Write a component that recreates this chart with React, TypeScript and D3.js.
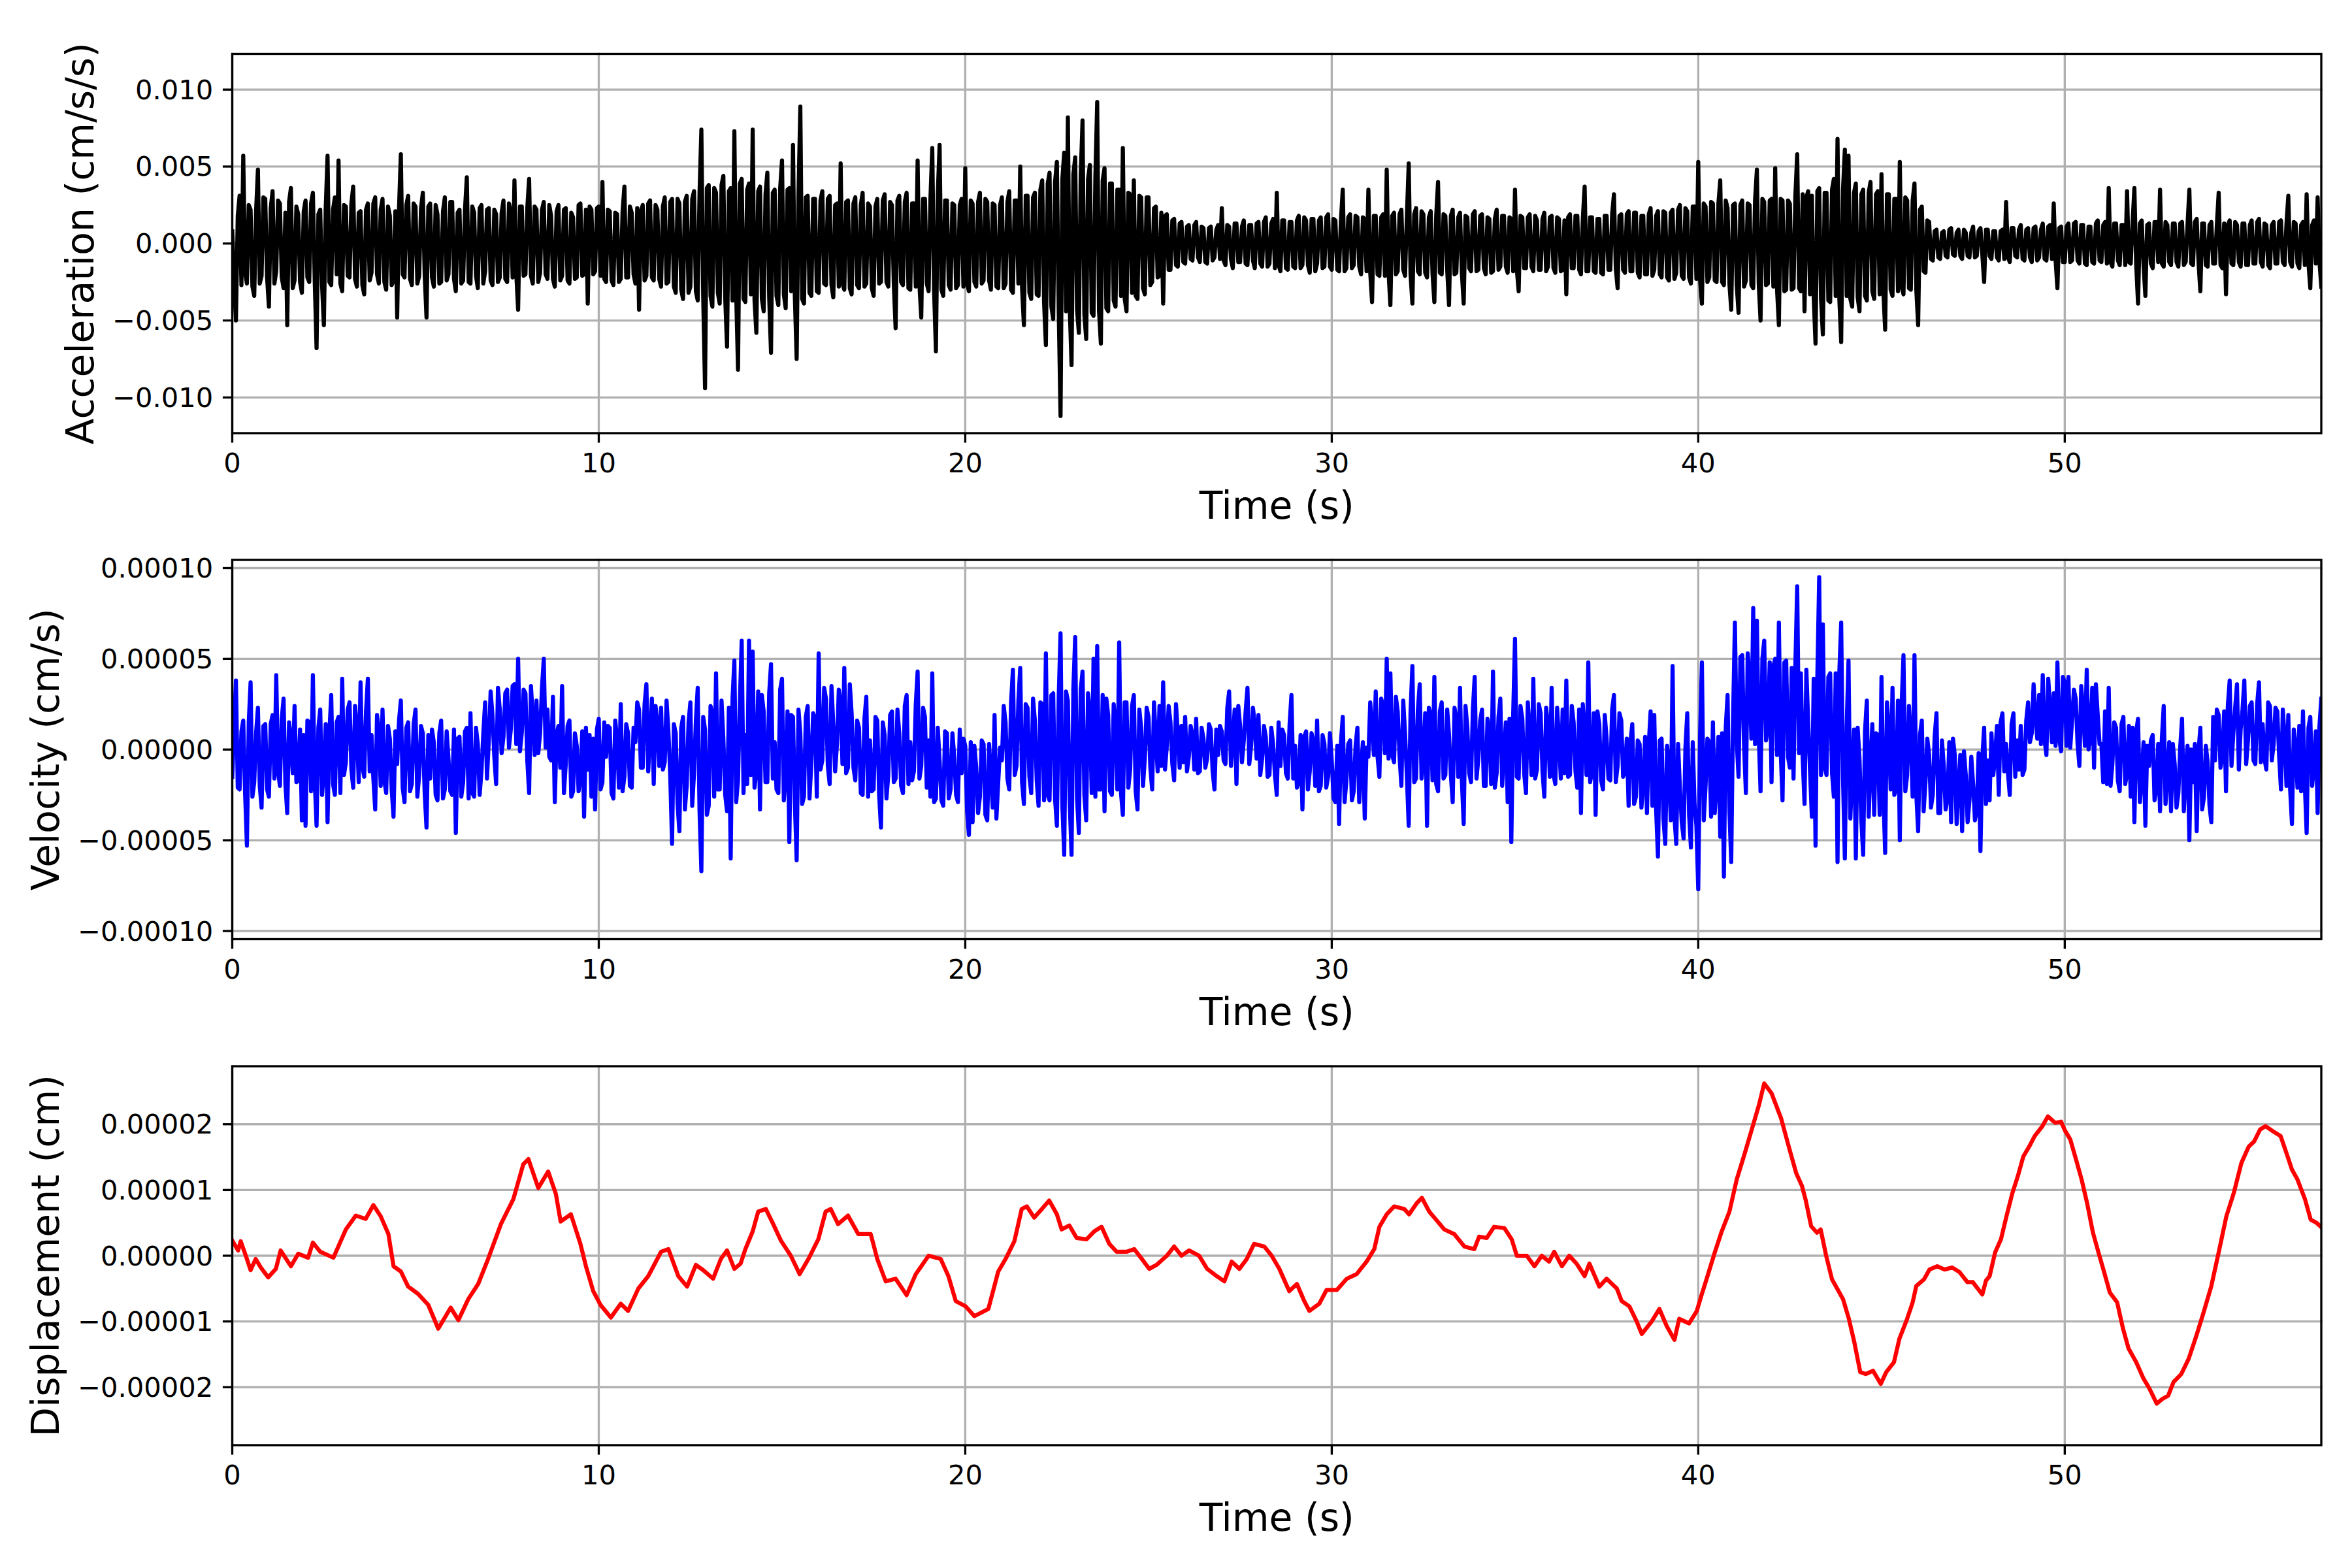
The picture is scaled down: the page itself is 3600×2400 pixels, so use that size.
import React, { useEffect, useRef } from "react";
import * as d3 from "d3";

// ---------- DATA ----------
// Acceleration, units of 1e-3 cm/s/s, at t = 0.0, 0.1, 0.2 ... 57.0 s
const accelOnTenths: number[] = [
  0.8, -5.0, 3.1, 5.7, -2.6, 2.2, -3.4, 4.8, -2.1, 2.9,
  -4.1, 3.4, -1.8, 2.6, -2.9, -5.3, 3.6, -2.4, 1.9, -3.2,
  2.8, -2.5, 3.3, -6.8, 2.2, -5.3, 5.7, -2.7, 3.0, 5.4,
  -3.1, 2.4, -2.2, 3.7, -2.8, 2.1, -3.3, 2.6, -1.9, 3.0,
  -2.6, 2.9, -3.0, 1.8, -2.4, -4.8, 5.8, -2.2, 3.1, -2.7,
  2.4, -2.1, 3.3, -4.8, 2.6, -2.8, 1.9, -2.5, 3.0, -2.0,
  2.7, -3.1, 2.2, -2.4, 4.3, -2.6, 2.0, -2.9, 2.5, -1.8,
  2.3, -2.7, 1.9, -2.2, 2.8, -2.5, 2.1, 4.1, -4.3, 2.4,
  -2.0, 4.2, -2.6, 2.2, -1.9, 2.7, -2.3, 1.8, -2.8, 2.5,
  -2.1, 2.3, -2.6, 1.7, -2.2, 2.6, -2.0, -3.9, 2.2, -1.8,
  2.4, 4.0, -2.5, 2.1, -2.7, 1.9, -2.3, 3.7, -2.2, 2.0,
  -2.6, -4.3, 2.5, -2.1, 2.8, -2.4, 2.2, -2.8, 3.0, -2.5,
  2.9, -3.2, 2.6, -3.6, 3.1, -2.8, 3.4, -3.7, 7.4, -9.4,
  3.8, -4.1, 3.3, -3.9, 4.4, -6.7, 3.6, 7.3, -8.2, 4.2,
  -3.8, 3.9, 7.4, -5.8, 3.7, -4.4, 4.6, -7.1, 3.5, -4.0,
  5.4, -4.2, 3.6, 6.4, -7.5, 8.9, -3.9, 3.1, -3.4, 2.9,
  -3.2, 3.4, -2.7, 3.1, -3.5, 2.6, 5.2, -3.0, 2.8, -3.3,
  3.0, -2.9, 3.3, -2.6, 2.4, -3.4, 2.9, -2.5, 3.2, -2.8,
  2.5, -5.5, 3.1, -2.7, 3.3, -3.0, 2.6, 5.4, -4.8, 2.9,
  -3.1, 6.2, -7.0, 6.4, -3.4, 2.8, -3.0, 2.5, -2.7, 2.9,
  4.9, -3.1, 2.6, -2.8, 3.3, -2.4, 2.7, -3.0, 2.5, -2.9,
  3.0, -2.6, 3.4, -3.2, 2.8, 5.0, -5.3, 3.1, -3.6, 3.3,
  -3.4, 4.1, -6.6, 4.6, -4.9, 5.3, -11.2, 5.9, 8.2, -7.9,
  5.6, -5.8, 8.0, -6.2, 5.1, -4.7, 9.2, -6.5, 4.9, -4.4,
  3.9, -4.1, 3.5, 6.2, -4.4, 3.2, 4.1, -3.6, 3.0, -3.3,
  3.0, -2.5, 2.4, -2.1, -3.9, 1.9, -1.7, 1.6, -1.5, 1.4,
  -1.3, 1.2, -1.1, 1.4, -1.2, 1.0, -1.3, 1.1, -0.9, 1.2,
  2.3, -1.4, 1.1, -1.6, 1.3, -1.2, 1.5, -1.4, 1.2, -1.6,
  1.4, -1.5, 1.7, -1.3, 1.6, 3.3, -1.8, 1.5, -1.7, 1.4,
  -1.6, 1.8, -1.4, 1.5, -1.9, 1.6, -1.3, 1.7, -1.5, 1.9,
  -1.7, 1.5, -1.8, 3.5, -1.6, 1.9, -1.4, 1.7, -2.0, 1.6,
  3.5, -3.8, 1.8, -2.1, 1.9, 4.8, -4.0, 2.0, -1.8, 2.2,
  -2.1, 5.2, -3.9, 2.3, -2.0, 1.9, -2.2, 2.1, -3.8, 4.0,
  -2.0, 1.8, -4.0, 2.2, -1.9, 2.0, -3.9, 1.7, -1.8, 2.1,
  -1.7, 1.9, -2.0, 1.6, -1.8, 2.2, -1.5, 1.8, -1.9, 1.6,
  3.5, -3.1, 1.7, -1.6, 1.9, -1.8, 1.5, -1.7, 2.0, -1.5,
  1.8, -1.9, 1.6, -1.7, -3.3, 1.9, -1.6, 1.8, -2.0, 3.7,
  -1.8, 1.7, -1.9, 1.6, -2.0, 1.8, -1.7, 3.2, -2.9, 1.9,
  -1.9, 2.1, -1.8, 2.0, -2.2, 1.8, -2.0, 2.3, -1.7, 2.1,
  -2.2, 2.0, -2.4, 2.2, -1.9, 2.5, -2.3, 2.1, -2.6, 2.4,
  5.3, -3.9, 2.4, -2.2, 2.6, -2.5, 4.1, -2.7, 2.3, -4.3,
  2.6, -4.5, 2.8, -2.4, 2.5, -2.9, 4.8, -5.0, 2.7, -2.6,
  2.9, 4.9, -5.3, 2.8, -3.0, 2.6, -2.9, 5.8, -3.1, -4.4,
  3.4, 3.1, -6.5, 3.6, -5.9, 3.3, -3.8, 4.2, 6.8, -6.4,
  6.1, 5.7, -4.1, 3.9, -4.4, 3.5, -3.7, 4.0, -3.6, 3.4,
  4.5, -5.6, 3.2, -3.4, 2.9, 5.3, -3.3, 2.8, -3.0, 3.9,
  -5.3, 2.4, -1.9, 1.4, -1.1, 0.9, -1.0, 0.8, -0.9, 1.0,
  -0.8, 0.9, -1.0, 0.7, -0.9, 1.1, -0.8, 1.0, -2.5, 0.9,
  -1.0, 0.8, -1.1, 0.9, 2.7, -1.2, 1.0, -0.9, 1.2, -1.1,
  1.0, -1.2, 1.1, -0.9, 1.3, -1.1, 1.2, 2.6, -2.9, 1.1,
  -1.2, 1.3, -1.1, 1.4, -1.3, 1.2, -1.4, 1.1, -1.3, 1.5,
  -1.2, 1.4, 3.6, -1.5, 1.3, -1.4, 1.2, 3.4, -1.3, 3.6,
  -3.9, 1.5, -3.4, 1.3, -1.6, 1.4, 3.5, -1.5, 1.2, -1.4,
  1.3, -1.5, 1.4, -1.2, 3.5, -1.4, 1.6, -3.1, 1.3, -1.5,
  1.4, -1.3, 3.3, -1.6, -3.3, 1.5, -1.4, 1.2, -1.5, 1.3,
  -1.4, 1.5, -1.3, 1.6, -1.5, 1.2, -1.6, 1.4, -1.3, 1.5,
  -1.4, 3.1, -1.5, 1.3, -1.6, 1.4, 3.2, -2.9, 1.5, 3.0,
  -2.8,
];
// Acceleration, units of 1e-3 cm/s/s, at t = 0.05, 0.15, 0.25 ... 56.95 s
const accelOnHalfTenths: number[] = [
  -2.4, 1.8, -2.7, -1.9, 2.5, -2.8, 2.1, -2.6, 3.0, -2.2,
  2.3, -2.6, 2.8, -2.2, 2.0, 2.7, -2.9, 2.4, -2.5, 2.1,
  -2.2, 2.6, -2.4, 1.9, -2.7, 2.3, -2.5, 2.2, -2.0, -2.6,
  2.5, -2.1, 2.6, -2.3, 2.0, -2.7, 2.2, -2.4, 2.6, -2.0,
  2.2, -2.5, 2.4, -2.7, 2.1, 2.3, -2.0, 2.5, -2.3, 2.6,
  -2.6, 2.3, -2.0, 2.4, -2.2, 2.5, -2.6, 2.1, -2.4, 2.7,
  -2.3, 2.0, -2.6, 2.2, -2.5, 2.4, -2.1, 2.3, -2.6, 2.2,
  -2.4, 2.2, -2.5, 2.0, -2.3, 2.6, -2.2, -2.0, 2.4, -2.1,
  2.3, -2.1, 2.4, -2.5, 2.2, -2.0, 2.5, -2.3, 2.1, -2.4,
  2.2, -2.4, 2.0, -2.3, 2.5, -2.1, 2.2, 2.4, -2.0, 2.3,
  -2.1, -2.3, 2.2, -2.4, 2.0, -2.5, 2.1, -2.2, 2.4, -2.0,
  2.3, 2.1, -2.4, 2.6, -2.2, 2.5, -2.3, 2.4, -2.6, 2.7,
  -2.8, 2.9, -3.0, 2.7, -3.2, 2.9, -3.1, 3.3, -3.5, 3.6,
  -3.4, 3.6, -3.2, 3.8, -3.5, 3.4, -3.7, -3.3, 3.9, -3.6,
  3.5, -3.3, -3.7, 3.4, -3.6, 3.2, -3.5, 3.3, -3.4, 3.6,
  -3.3, 3.5, -3.1, -3.4, 3.2, -3.6, 3.0, -3.2, 2.9, -3.1,
  2.8, -2.6, 2.9, -2.7, 2.5, -2.8, -2.6, 2.7, -2.9, 2.6,
  -2.7, 2.5, -2.8, 2.6, -2.9, 2.4, -2.6, 2.8, -2.5, 2.7,
  -2.6, 2.8, -2.5, 2.7, -2.9, 2.6, -2.8, -2.7, 2.9, -2.6,
  2.9, -3.1, 3.2, -3.0, 2.8, -2.7, 2.6, -2.9, 2.5, -2.8,
  -2.6, 2.8, -2.5, 2.7, -2.6, 2.9, -2.4, 2.6, -2.8, 2.5,
  -2.9, 2.7, -3.0, 2.8, -2.6, -2.9, 3.1, -3.2, 3.0, -3.3,
  3.5, -3.8, 3.9, -4.1, 4.0, -4.3, 4.2, -4.4, -4.1, 4.5,
  -4.3, 4.4, -4.6, 4.2, -4.5, 4.3, -4.4, 4.1, -4.2, 3.9,
  -3.7, 3.5, -3.4, -3.6, 3.3, -3.2, -3.4, 3.1, -2.9, 3.0,
  -2.7, 2.3, -2.2, 2.0, 1.8, -1.7, 1.5, -1.4, 1.3, -1.2,
  1.1, -1.0, 1.2, -0.9, 1.1, -1.2, 1.0, -1.1, 0.9, -1.0,
  -1.1, 1.2, -1.0, 1.3, -1.2, 1.1, -1.3, 1.2, -1.1, 1.3,
  -1.3, 1.4, -1.5, 1.3, -1.6, -1.4, 1.5, -1.6, 1.4, -1.5,
  1.5, -1.6, 1.7, -1.4, 1.6, -1.8, 1.5, -1.6, 1.7, -1.5,
  1.6, -1.7, 1.5, -1.8, 1.7, -1.6, 1.8, -1.5, 1.7, -1.8,
  -1.9, 1.8, -2.0, 1.7, -2.1, -1.9, 1.8, -2.0, 1.9, -1.7,
  1.8, -2.0, 1.9, -1.8, 2.1, -1.9, 1.7, -2.0, 1.8, -1.9,
  1.9, -1.7, 1.8, -2.0, 1.7, -1.9, 1.8, -1.6, 1.9, -1.8,
  1.8, -1.6, 1.7, -1.9, 1.6, -1.7, 1.8, -1.5, 1.7, -1.8,
  -1.7, 1.8, -1.6, 1.7, -1.5, 1.8, -1.7, 1.6, -1.8, 1.7,
  -1.6, 1.7, -1.8, 1.5, 1.7, -1.6, 1.8, -1.7, 1.6, -1.8,
  1.7, -1.8, 1.6, -1.9, 1.8, -1.7, 1.9, -1.6, 1.8, -1.7,
  1.9, -1.8, 2.0, -1.9, 1.8, -2.0, 1.9, -2.1, 1.8, -2.0,
  2.1, -2.2, 2.0, -2.3, 2.2, -2.1, 2.3, -2.2, 2.4, -2.3,
  -2.4, 2.6, -2.5, 2.7, -2.4, 2.6, -2.5, 2.8, -2.6, 2.5,
  -2.7, 2.5, -2.8, 2.6, -2.7, 2.8, -2.6, 2.9, -2.7, 2.8,
  -2.8, -3.0, 2.9, -3.1, 2.8, -3.0, 3.1, -2.9, 3.2, 3.0,
  -3.3, -3.5, 3.4, -3.6, 3.3, -3.7, 3.5, -3.4, -3.6, 3.5,
  -3.4, -3.6, 3.3, -3.5, 3.2, -3.4, 3.3, -3.1, 3.2, -3.3,
  -3.1, 3.2, -3.0, 2.9, -3.1, -2.8, 3.0, -2.9, 2.8, -3.0,
  2.2, -1.8, 1.5, -1.0, 0.8, -0.9, 0.7, -0.8, 0.9, -0.7,
  0.7, -0.8, 0.9, -0.8, 0.7, -0.9, 0.8, -0.7, 0.9, -0.8,
  0.8, -0.9, 0.8, -1.0, -0.9, 1.0, -0.8, 0.9, -1.0, 0.9,
  -0.9, 1.0, -1.1, 0.9, -1.0, 1.1, -1.0, -1.1, 1.0, -1.2,
  1.1, -1.2, 1.3, -1.1, 1.2, -1.3, 1.1, -1.2, 1.3, -1.1,
  1.2, -1.3, -1.2, 1.3, -1.1, 1.2, -1.4, -1.2, 1.3, -1.4,
  1.3, -1.4, 1.2, -1.3, 1.4, -1.2, -1.3, 1.4, -1.2, 1.3,
  -1.2, 1.3, -1.4, 1.2, -1.3, 1.4, -1.2, 1.3, -1.4, 1.2,
  -1.3, 1.2, -1.4, 1.3, 1.2, -1.3, 1.4, -1.2, 1.3, -1.4,
  1.2, -1.3, 1.4, -1.2, 1.3, -1.4, 1.2, -1.3, 1.4, -1.2,
  1.3, -1.2, 1.4, -1.3, 1.2, -1.4, -1.3, 1.2, -1.3, -1.2,
];

// Velocity, units of 1e-5 cm/s, at t = 0.0, 0.1 ... 57.0 s
const velOnTenths: number[] = [
  -1.5, 3.8, -2.2, 1.6, -5.3, 3.7, -1.8, 2.3, -3.2, 1.4,
  -2.6, 1.9, 4.1, -2.0, 2.8, -3.5, 0.6, 2.4, -1.7, -3.9,
  -4.2, 1.5, 4.1, -4.2, 2.2, -1.1, -4.0, 3.0, -2.5, 1.8,
  3.9, -0.7, 2.6, -2.1, 1.3, 3.7, -1.5, 3.9, 0.8, -3.3,
  1.1, 2.2, -2.4, 0.6, -3.7, -0.8, 2.7, -2.9, 1.5, -1.9,
  2.2, -1.4, 0.9, -4.3, -1.6, 0.4, -2.8, 1.6, -2.2, -0.5,
  -2.5, -4.6, 0.7, -1.8, 1.2, 2.0, -2.6, 0.3, -1.2, 2.6,
  0.5, 1.9, -1.9, 2.2, 0.7, 3.3, 1.1, 3.6, 5.0, 0.9,
  3.1, -2.4, 1.8, 2.7, 0.9, 5.0, 2.2, -0.6, -2.9, 1.3,
  3.5, -0.8, 1.6, -2.3, 0.2, -1.5, -3.7, -1.1, -2.6, -3.3,
  1.7, -1.8, -0.4, 1.2, -2.7, 0.6, 2.5, -1.5, 0.9, -2.1,
  0.4, 2.2, -1.0, 3.6, 0.8, -1.9, 1.4, 2.3, -0.7, 1.0,
  -5.2, 0.9, -4.5, 1.8, -2.0, 2.6, -1.3, 3.4, -6.7, 1.1,
  -3.1, 2.0, 4.2, -2.2, 0.6, -3.4, -6.0, 4.9, -1.7, 6.0,
  0.8, 6.0, 5.4, -1.2, -3.3, 2.1, -1.8, 4.7, 0.4, -2.4,
  3.9, -1.5, -5.1, 1.8, -6.1, 0.9, -2.6, 2.4, -0.8, 1.7,
  5.3, -0.6, 2.8, -1.9, 1.4, 0.3, 2.6, 4.5, -1.0, 2.0,
  -1.7, 1.2, -2.5, 2.9, 0.5, -2.2, 1.6, -4.3, 0.8, -1.4,
  2.1, -1.6, 0.9, -2.4, 3.0, 0.4, -1.2, 4.3, -0.9, 1.8,
  0.5, 4.2, -2.7, -0.6, -3.1, 0.9, -2.2, -0.4, -2.9, -1.3,
  0.2, -4.7, -4.0, -1.0, -2.6, 0.3, -3.9, -1.4, 1.9, -1.8,
  -0.6, 1.5, -2.2, 4.4, -0.9, 4.5, -3.0, 2.3, -2.4, 1.6,
  -3.1, 2.5, 5.3, -2.8, 3.1, -4.2, 6.4, -5.8, 2.7, -5.8,
  6.2, -4.6, 4.3, -3.9, 2.1, 5.0, 5.7, -2.2, -3.4, 1.9,
  -2.5, 1.4, 5.9, -3.6, 2.6, -1.1, 3.0, -3.3, 1.2, -0.5,
  1.8, -2.2, 0.6, 2.4, 3.7, 0.2, 1.5, -1.7, 0.9, 1.3,
  1.8, -0.4, 0.8, 1.7, -1.2, 0.6, -0.5, 1.1, -2.2, -0.3,
  1.0, -0.8, 3.2, 0.4, -1.9, 1.3, 0.5, 3.4, 0.2, 1.4,
  1.9, -0.5, 0.7, -1.4, 0.3, -2.5, -0.9, 0.8, -1.6, 3.0,
  0.2, -1.8, -3.3, 1.0, -1.2, 0.4, 1.6, -2.0, 0.3, -1.5,
  -0.6, -2.9, -4.1, 1.8, -1.7, 0.5, -2.3, 1.2, -1.0, -3.8,
  -0.4, 1.3, 3.2, -1.5, 2.4, 5.0, 4.2, -0.7, 2.1, -2.0,
  0.9, -4.2, 4.6, -1.6, 3.6, -0.5, -4.2, 1.9, 4.0, -2.3,
  2.6, -1.4, 0.8, -2.9, 1.7, 3.4, -4.1, 1.2, -1.8, 4.0,
  -0.5, 2.2, -2.0, 1.1, 4.3, -1.3, 2.8, -0.2, -2.9, -5.1,
  6.1, -1.6, 1.7, -2.4, 0.9, 3.9, -1.1, 2.0, -2.6, 1.3,
  3.4, -1.9, 0.6, 2.2, 3.8, -1.4, 1.5, -2.1, -3.5, 0.8,
  4.8, -1.2, -3.6, 1.4, -2.2, 0.6, -1.7, 3.0, -0.9, 1.6,
  -1.2, -3.1, 1.4, -2.6, 0.3, -1.9, -3.5, 2.1, 1.9, -5.9,
  0.6, -5.2, -1.0, 4.6, -5.2, -2.1, -4.9, 2.0, -5.4, -3.0,
  -7.7, 4.8, -2.0, 0.4, 1.5, -1.9, -4.8, -7.0, 3.0, -6.2,
  7.0, -1.5, 5.2, -2.4, 4.0, 7.8, 7.1, -2.3, 6.0, 1.2,
  -1.8, 5.0, 7.0, -2.8, 4.9, -1.0, -1.6, 9.0, 4.2, -3.0,
  1.5, -3.7, -5.3, 9.5, 6.9, -1.4, 4.2, -2.6, -6.2, 7.0,
  -6.0, 4.9, -1.2, -6.0, -0.5, -5.8, 2.7, -1.0, -3.6, 0.8,
  4.0, -5.7, 1.1, 3.4, -2.2, -5.0, 5.2, -1.4, 0.6, 5.2,
  -4.5, 1.6, -1.8, -0.3, -2.5, 2.0, -3.5, -0.9, -2.7, -4.0,
  -0.3, -2.0, -4.5, -1.4, -2.8, -1.9, -3.3, -5.6, 1.2, -0.6,
  0.9, -0.4, -2.5, 2.0, 0.3, -2.5, 2.0, 0.5, 1.3, -1.1,
  2.6, 0.9, 1.8, 3.0, 4.1, -0.3, 2.3, 3.1, 4.8, -0.1,
  3.7, 4.0, 1.6, 2.8, -0.9, 2.2, 4.4, 0.6, -1.0, 1.9,
  0.3, 2.1, 3.4, -0.8, 1.2, -2.3, 1.8, -1.3, -2.6, -4.0,
  1.7, -1.6, -4.2, -0.9, 0.8, -2.2, -3.4, 2.4, -1.5, -3.4,
  -0.8, -2.4, 1.7, -1.2, -5.0, -1.8, -4.5, 1.2, -2.6, -0.7,
  -4.0, -0.6, 1.9, -0.4, -2.3, 3.8, 0.9, 3.6, 1.1, 3.8,
  0.5, 2.6, -0.8, 3.7, 1.4, -1.1, 2.4, 0.3, 2.1, -2.2,
  0.7, 1.9, -4.1, 0.2, 1.3, 2.1, -4.6, 1.8, -0.9, -3.5,
  2.8,
];
// Velocity, units of 1e-5 cm/s, at t = 0.05, 0.15 ... 56.95 s
const velOnHalfTenths: number[] = [
  1.2, -2.1, 1.0, -2.4, 1.5, -2.6, 0.9, -2.0, 1.3, -2.2,
  1.4, -1.6, -1.2, 1.7, -1.9, 1.5, -1.3, -1.8, 1.1, 0.8,
  1.6, -2.3, -1.7, 1.2, -2.5, 1.4, 0.9, -1.9, 1.5, -2.4,
  -1.4, 2.2, -1.1, 2.4, -1.8, -0.9, 2.1, -1.2, -1.6, 1.9,
  -2.0, -1.7, 1.3, -2.2, 1.0, 1.6, -2.1, 1.2, -2.3, 1.4,
  -2.6, 1.3, -2.4, 0.8, 1.1, -2.5, 0.9, -2.7, 1.0, -2.3,
  1.1, 0.6, -2.6, 1.0, -2.7, -2.4, 1.2, -2.5, 0.9, -1.6,
  3.2, -0.4, 3.4, -0.2, 3.1, 0.1, 3.5, 0.3, -0.1, 3.3,
  -0.6, 3.5, -0.3, -0.2, 3.4, 0.1, -0.4, 2.9, 0.8, -1.0,
  -2.4, 1.3, -2.6, 0.9, -2.3, 1.0, 1.2, 0.8, 0.6, 1.1,
  -2.2, 1.5, 1.3, -2.4, 1.6, -2.1, -2.3, 1.4, -2.0, 1.2,
  2.6, -1.0, 2.5, -1.2, 2.8, 2.4, -0.9, -1.1, 2.7, -1.4,
  1.4, -3.0, 1.2, -3.3, 1.5, -3.1, 1.6, -3.4, 1.8, -3.6,
  2.4, -2.6, -2.2, 2.7, -2.5, 2.3, 2.8, -2.9, 2.6, -2.4,
  -1.9, -1.4, -2.1, 3.2, 3.0, -1.8, 3.1, -1.6, -2.2, 3.3,
  -2.8, 2.1, 1.9, -2.9, 2.2, -3.0, 1.8, -2.7, 2.0, -2.6,
  -1.1, 3.4, -0.9, 3.5, -1.2, 3.3, -0.8, -1.3, 3.6, -1.0,
  1.6, -2.4, 1.7, -2.6, -2.3, 1.8, -2.5, 1.5, -2.7, 1.9,
  -1.8, 2.2, -2.0, 2.4, -1.9, -1.7, 2.5, -1.6, 2.3, -2.1,
  -2.6, -2.9, 1.2, -2.8, 1.0, -2.7, 0.9, -2.5, 1.1, 0.6,
  -3.4, 0.4, 0.2, -3.5, 0.5, -3.6, 0.3, -3.2, -3.8, 0.1,
  2.4, -1.6, 2.6, -1.4, 2.7, -1.8, 2.5, -1.5, 2.8, -1.7,
  2.6, -2.8, -2.5, 3.0, -2.7, 2.9, -3.1, 3.2, -2.9, 3.4,
  -2.7, 3.3, -2.5, 3.1, -2.4, -2.6, -2.2, 3.0, 2.8, -2.3,
  2.5, -2.2, -2.4, 2.6, -2.1, 2.4, -2.3, 2.2, -2.0, 2.3,
  -1.0, 2.6, -1.2, -0.9, -1.1, 2.4, -0.8, 2.5, -1.0, -0.7,
  -1.2, 1.3, -1.1, -1.3, 1.2, -1.0, 1.4, -1.2, 1.1, 1.3,
  -0.6, 2.3, -0.9, 2.2, 2.4, -0.7, 2.1, -0.8, 2.3, -0.5,
  -1.4, 1.3, -1.5, 1.2, -1.4, 1.5, 1.1, -1.3, 1.4, -1.6,
  -2.1, 0.8, 0.7, -2.2, 0.9, -2.0, -2.3, 0.8, -2.1, 0.9,
  -2.7, 0.2, 0.4, -2.9, 0.3, -2.8, 0.2, -2.9, 0.4, 0.1,
  2.6, -0.3, -0.4, 2.8, -0.2, -0.5, -0.3, 2.9, -0.4, 2.7,
  -1.5, 2.1, -1.8, 2.2, -1.6, 2.0, 2.3, -1.7, -1.9, 2.1,
  -1.6, 2.2, -1.4, 2.3, -1.5, -1.7, 2.4, -1.3, 2.2, -1.6,
  1.6, -2.0, 1.7, -1.9, -2.1, 1.8, -2.0, 1.5, 1.7, 1.9,
  -1.5, 2.4, -1.3, 2.6, -1.4, -1.6, 2.5, -1.2, 2.3, -1.5,
  -1.4, 2.3, -1.6, -1.3, -1.5, 2.4, -1.2, 2.2, 2.5, -1.4,
  -1.8, 2.0, 2.1, -1.7, 1.9, -1.6, 2.2, -1.8, 2.0, -1.5,
  0.6, 0.4, -3.0, 0.5, -3.2, 0.7, 0.3, -3.1, -3.3, 0.5,
  -3.8, 0.2, -3.9, -3.7, 0.3, -4.0, 0.1, -3.6, 0.4, -4.2,
  0.8, -3.9, 0.6, -3.7, -3.5, 0.7, 0.9, 1.2, -3.4, 1.8,
  0.4, 5.1, 0.2, 5.3, 0.6, 0.3, 0.8, 5.0, 0.5, 4.8,
  4.6, -0.3, -0.1, 4.8, -0.4, 4.5, 4.7, -0.2, -0.5, 4.4,
  -1.2, 3.9, 4.1, -1.4, -1.0, 4.0, -1.3, 4.2, 4.3, -1.6,
  1.3, -3.8, 1.1, 1.2, -3.9, 1.0, -3.7, 1.4, 0.9, -3.6,
  -2.4, 2.6, -2.2, -2.5, 2.7, 2.5, -2.3, 2.4, -2.6, -2.5,
  0.8, -3.4, 0.6, -3.2, 0.7, -3.5, 0.5, -3.3, 0.4, 0.6,
  -4.1, -0.3, -0.1, -4.0, -0.4, -3.9, -0.2, -0.5, -3.0, -2.8,
  -1.4, 1.3, 1.5, -1.2, -1.3, 1.4, -1.5, -1.1, -1.4, 1.6,
  0.4, 3.6, 0.6, 0.3, 0.5, 3.9, 0.4, 0.2, 0.6, 4.0,
  0.2, 0.1, 3.3, 0.3, 3.5, 0.2, 0.0, 3.4, 3.6, 0.3,
  -1.8, -1.9, -2.0, 1.5, -1.7, 1.4, -1.9, 1.3, 1.2, 1.0,
  -2.9, 0.4, 0.2, 0.5, -2.8, 0.3, 0.6, -3.0, 0.4, 0.3,
  -3.2, 0.1, -3.4, 0.2, 0.0, 0.3, -0.1, -3.3, 0.2, -3.1,
  1.8, 2.2, -1.0, 2.1, 2.4, -0.9, 2.3, -1.1, 2.2, -0.8,
  2.4, -0.6, 2.5, -0.7, -0.5, 2.6, -0.6, 2.3, -0.4, 2.2,
  -2.0, -2.2, 1.1, -2.1, -2.3, -1.9, 1.2, -2.0, 1.0, 1.3,
];

// Displacement: times (s) and values (units of 1e-5 cm)
const dispTime: number[] = [
  0.0, 0.16, 0.23, 0.37, 0.5, 0.64, 0.78, 0.98, 1.19, 1.32, 1.6, 1.8, 2.07, 2.2, 2.4, 2.76,
  3.1, 3.37, 3.64, 3.85, 4.05, 4.26, 4.4, 4.6, 4.8, 5.07, 5.35, 5.62, 5.96, 6.17, 6.44, 6.71,
  6.98, 7.33, 7.67, 7.94, 8.08, 8.35, 8.62, 8.83, 8.96, 9.24, 9.5, 9.65, 9.85, 10.05, 10.33, 10.6,
  10.8, 11.08, 11.35, 11.7, 11.9, 12.17, 12.41, 12.65, 12.85, 13.12, 13.33, 13.5, 13.7, 13.87, 14.0, 14.2,
  14.35, 14.56, 14.76, 14.97, 15.24, 15.48, 15.72, 15.99, 16.19, 16.33, 16.53, 16.8, 17.08, 17.42, 17.6, 17.83,
  18.1, 18.4, 18.65, 19.0, 19.33, 19.54, 19.74, 20.01, 20.25, 20.63, 20.9, 21.1, 21.34, 21.54, 21.68, 21.88,
  22.09, 22.29, 22.5, 22.63, 22.84, 23.04, 23.31, 23.52, 23.72, 23.93, 24.13, 24.4, 24.61, 24.82, 25.02, 25.22,
  25.5, 25.7, 25.9, 26.11, 26.38, 26.6, 26.86, 27.07, 27.27, 27.48, 27.68, 27.88, 28.16, 28.36, 28.57, 28.84,
  29.05, 29.25, 29.39, 29.66, 29.86, 30.14, 30.41, 30.68, 30.95, 31.16, 31.3, 31.5, 31.7, 31.98, 32.11, 32.32,
  32.46, 32.66, 32.86, 33.07, 33.34, 33.62, 33.89, 34.02, 34.23, 34.43, 34.71, 34.91, 35.05, 35.32, 35.53, 35.73,
  35.93, 36.07, 36.28, 36.48, 36.68, 36.9, 37.03, 37.3, 37.5, 37.78, 37.91, 38.12, 38.32, 38.46, 38.73, 38.94,
  39.14, 39.35, 39.48, 39.75, 39.96, 40.1, 40.23, 40.44, 40.64, 40.85, 41.05, 41.26, 41.46, 41.66, 41.8, 42.0,
  42.26, 42.47, 42.67, 42.83, 42.93, 43.08, 43.24, 43.34, 43.49, 43.65, 43.8, 43.95, 44.11, 44.26, 44.42, 44.57,
  44.77, 44.98, 45.13, 45.34, 45.49, 45.7, 45.85, 45.95, 46.16, 46.31, 46.52, 46.72, 46.93, 47.13, 47.34, 47.49,
  47.64, 47.75, 47.85, 47.95, 48.1, 48.26, 48.41, 48.57, 48.72, 48.87, 49.03, 49.18, 49.39, 49.54, 49.74, 49.9,
  50.0, 50.15, 50.31, 50.46, 50.61, 50.77, 50.92, 51.08, 51.23, 51.43, 51.59, 51.74, 51.95, 52.15, 52.31, 52.51,
  52.66, 52.82, 52.97, 53.18, 53.38, 53.59, 53.79, 54.0, 54.2, 54.41, 54.61, 54.82, 55.02, 55.17, 55.33, 55.48,
  55.69, 55.89, 56.05, 56.2, 56.35, 56.56, 56.71, 56.87, 56.97,
];
const dispValues: number[] = [
  0.23, 0.08, 0.22, 0.0, -0.22, -0.05, -0.18, -0.33, -0.2, 0.08, -0.16, 0.03, -0.03, 0.2, 0.06, -0.03,
  0.4, 0.61, 0.56, 0.77, 0.6, 0.33, -0.16, -0.24, -0.47, -0.58, -0.75, -1.11, -0.79, -0.98, -0.66, -0.43,
  -0.05, 0.48, 0.86, 1.39, 1.47, 1.03, 1.28, 0.94, 0.52, 0.63, 0.18, -0.16, -0.54, -0.75, -0.94, -0.73,
  -0.84, -0.5, -0.31, 0.06, 0.1, -0.31, -0.47, -0.14, -0.22, -0.35, -0.05, 0.08, -0.2, -0.12, 0.1, 0.37,
  0.67, 0.71, 0.48, 0.23, 0.0, -0.28, -0.05, 0.25, 0.67, 0.71, 0.48, 0.61, 0.33, 0.33, -0.05, -0.39,
  -0.35, -0.6, -0.28, 0.0, -0.05, -0.31, -0.69, -0.77, -0.92, -0.81, -0.24, -0.05, 0.22, 0.71, 0.75, 0.58,
  0.71, 0.84, 0.63, 0.4, 0.46, 0.27, 0.25, 0.37, 0.44, 0.18, 0.06, 0.06, 0.1, -0.05, -0.2, -0.14,
  0.0, 0.14, 0.0, 0.08, 0.0, -0.2, -0.31, -0.39, -0.09, -0.2, -0.05, 0.18, 0.14, 0.0, -0.2, -0.54,
  -0.43, -0.69, -0.84, -0.73, -0.52, -0.52, -0.35, -0.28, -0.09, 0.1, 0.44, 0.63, 0.75, 0.71, 0.63, 0.8,
  0.88, 0.67, 0.54, 0.4, 0.33, 0.14, 0.1, 0.29, 0.27, 0.44, 0.42, 0.25, 0.0, 0.0, -0.16, 0.0,
  -0.09, 0.06, -0.16, 0.0, -0.12, -0.31, -0.12, -0.47, -0.35, -0.5, -0.69, -0.77, -1.0, -1.19, -1.0, -0.81,
  -1.07, -1.28, -0.96, -1.03, -0.84, -0.58, -0.35, 0.03, 0.37, 0.67, 1.16, 1.54, 1.92, 2.3, 2.62, 2.47,
  2.09, 1.66, 1.26, 1.06, 0.85, 0.45, 0.35, 0.4, 0.0, -0.36, -0.51, -0.66, -0.96, -1.32, -1.77, -1.8,
  -1.75, -1.95, -1.77, -1.62, -1.26, -0.96, -0.71, -0.46, -0.36, -0.21, -0.16, -0.21, -0.18, -0.25, -0.4, -0.4,
  -0.51, -0.59, -0.38, -0.31, 0.05, 0.25, 0.6, 0.95, 1.21, 1.51, 1.66, 1.82, 1.97, 2.12, 2.02, 2.04,
  1.91, 1.77, 1.46, 1.16, 0.8, 0.35, 0.05, -0.26, -0.56, -0.71, -1.11, -1.41, -1.62, -1.87, -2.02, -2.25,
  -2.18, -2.13, -1.92, -1.8, -1.57, -1.22, -0.86, -0.46, 0.05, 0.6, 0.95, 1.41, 1.66, 1.74, 1.92, 1.97,
  1.89, 1.82, 1.56, 1.31, 1.16, 0.85, 0.55, 0.5, 0.45,
];

const SAMPLE_DT = 0.1; // seconds between the "tenths" samples
const ACCEL_UNIT = 1e-3;
const VEL_UNIT = 1e-5;
const DISP_UNIT = 1e-5;
const T_MAX = 57;

const timeTicks: number[] = [0, 10, 20, 30, 40, 50];
const accelTicks: number[] = [-0.01, -0.005, 0, 0.005, 0.01];
const velTicks: number[] = [-0.0001, -0.00005, 0, 0.00005, 0.0001];
const dispTicks: number[] = [-0.00002, -0.00001, 0, 0.00001, 0.00002];

const xLabel = "Time (s)";
const yLabels = ["Acceleration (cm/s/s)", "Velocity (cm/s)", "Displacement (cm)"];

// ---------- LAYOUT ----------
const W = 3600;
const H = 2400;
const LEFT = 355.5;
const RIGHT = 3553;
const PANEL_BOX = [
  { top: 82.5, bottom: 663 },
  { top: 857, bottom: 1437.5 },
  { top: 1632, bottom: 2212 },
];
const FONT = "'DejaVu Sans', Verdana, sans-serif";
const TICK_FS = 41.67;
const LABEL_FS = 58.33;
const TICK_LEN = 14.58;
const TICK_PAD = 14.58;
const SPINE_W = 3.33;
const GRID_W = 3.33;
const LINE_W = 6.25;

type Pt = [number, number];

// interleave the on-tenth and half-tenth readings into one time-ordered series
function mergeSeries(onTenths: number[], half: number[], unit: number): Pt[] {
  const out: Pt[] = [];
  onTenths.forEach((v, i) => {
    out.push([i * SAMPLE_DT, v * unit]);
    if (i < half.length) out.push([i * SAMPLE_DT + SAMPLE_DT / 2, half[i] * unit]);
  });
  return out;
}

export default function App() {
  const ref = useRef<SVGSVGElement | null>(null);

  useEffect(() => {
    const svg = d3.select(ref.current);
    svg.selectAll("*").remove();
    svg.append("rect").attr("width", W).attr("height", H).attr("fill", "#ffffff");

    const accelPts = mergeSeries(accelOnTenths, accelOnHalfTenths, ACCEL_UNIT);
    const velPts = mergeSeries(velOnTenths, velOnHalfTenths, VEL_UNIT);
    const dispPts: Pt[] = dispTime.map((t, i) => [t, dispValues[i] * DISP_UNIT]);

    const panels = [
      { pts: accelPts, ticks: accelTicks, fmt: d3.format(".3f"), color: "#000000", label: yLabels[0] },
      { pts: velPts, ticks: velTicks, fmt: d3.format(".5f"), color: "#0000ff", label: yLabels[1] },
      { pts: dispPts, ticks: dispTicks, fmt: d3.format(".5f"), color: "#ff0000", label: yLabels[2] },
    ];

    panels.forEach((p, pi) => {
      const box = PANEL_BOX[pi];
      const x = d3.scaleLinear().domain([0, T_MAX]).range([LEFT, RIGHT]);
      const maxAbs = d3.max(p.pts, (d) => Math.abs(d[1])) as number;
      const y = d3.scaleLinear().domain([-1.1 * maxAbs, 1.1 * maxAbs]).range([box.bottom, box.top]);
      const g = svg.append("g");

      const clipId = `clip-${pi}`;
      g.append("clipPath")
        .attr("id", clipId)
        .append("rect")
        .attr("x", LEFT)
        .attr("y", box.top)
        .attr("width", RIGHT - LEFT)
        .attr("height", box.bottom - box.top);

      // grid
      const grid = g.append("g").attr("stroke", "#b0b0b0").attr("stroke-width", GRID_W).attr("stroke-linecap", "square");
      timeTicks.forEach((t) => {
        grid.append("line").attr("x1", x(t)).attr("x2", x(t)).attr("y1", box.top).attr("y2", box.bottom);
      });
      p.ticks.forEach((v) => {
        grid.append("line").attr("x1", LEFT).attr("x2", RIGHT).attr("y1", y(v)).attr("y2", y(v));
      });

      // data line
      const line = d3
        .line<Pt>()
        .x((d) => x(d[0]))
        .y((d) => y(d[1]));
      g.append("path")
        .attr("d", line(p.pts) as string)
        .attr("fill", "none")
        .attr("stroke", p.color)
        .attr("stroke-width", LINE_W)
        .attr("stroke-linejoin", "round")
        .attr("stroke-linecap", "square")
        .attr("clip-path", `url(#${clipId})`);

      // spines
      g.append("rect")
        .attr("x", LEFT)
        .attr("y", box.top)
        .attr("width", RIGHT - LEFT)
        .attr("height", box.bottom - box.top)
        .attr("fill", "none")
        .attr("stroke", "#000")
        .attr("stroke-width", SPINE_W)
        .attr("stroke-linejoin", "miter");

      // x ticks
      timeTicks.forEach((t) => {
        g.append("line")
          .attr("x1", x(t))
          .attr("x2", x(t))
          .attr("y1", box.bottom)
          .attr("y2", box.bottom + TICK_LEN)
          .attr("stroke", "#000")
          .attr("stroke-width", SPINE_W);
        g.append("text")
          .attr("x", x(t))
          .attr("y", box.bottom + 60)
          .attr("text-anchor", "middle")
          .attr("font-family", FONT)
          .attr("font-size", TICK_FS)
          .attr("fill", "#000")
          .text(String(t));
      });

      // y ticks
      const tickLabels: SVGTextElement[] = [];
      p.ticks.forEach((v) => {
        g.append("line")
          .attr("x1", LEFT - TICK_LEN)
          .attr("x2", LEFT)
          .attr("y1", y(v))
          .attr("y2", y(v))
          .attr("stroke", "#000")
          .attr("stroke-width", SPINE_W);
        const tl = g
          .append("text")
          .attr("x", LEFT - TICK_LEN - TICK_PAD)
          .attr("y", y(v) + 14.5)
          .attr("text-anchor", "end")
          .attr("font-family", FONT)
          .attr("font-size", TICK_FS)
          .attr("fill", "#000")
          .text(p.fmt(v));
        tickLabels.push(tl.node() as SVGTextElement);
      });

      // x label
      g.append("text")
        .attr("x", (LEFT + RIGHT) / 2)
        .attr("y", box.bottom + 131)
        .attr("text-anchor", "middle")
        .attr("font-family", FONT)
        .attr("font-size", LABEL_FS)
        .attr("fill", "#000")
        .text(xLabel);

      // y label, placed left of the widest tick label
      let minX = LEFT - TICK_LEN - TICK_PAD;
      tickLabels.forEach((el) => {
        try {
          const b = el.getBBox();
          if (b.x < minX) minX = b.x;
        } catch (e) {
          /* ignore */
        }
      });
      const lx = minX - 16.67 - 12.1;
      const ly = (box.top + box.bottom) / 2;
      g.append("text")
        .attr("transform", `translate(${lx},${ly}) rotate(-90)`)
        .attr("text-anchor", "middle")
        .attr("font-family", FONT)
        .attr("font-size", LABEL_FS)
        .attr("fill", "#000")
        .text(p.label);
    });
  }, []);

  return (
    <div style={{ position: "absolute", left: 0, top: 0, width: W, height: H, background: "#fff" }}>
      <svg ref={ref} width={W} height={H} viewBox={`0 0 ${W} ${H}`} style={{ display: "block" }} />
    </div>
  );
}
